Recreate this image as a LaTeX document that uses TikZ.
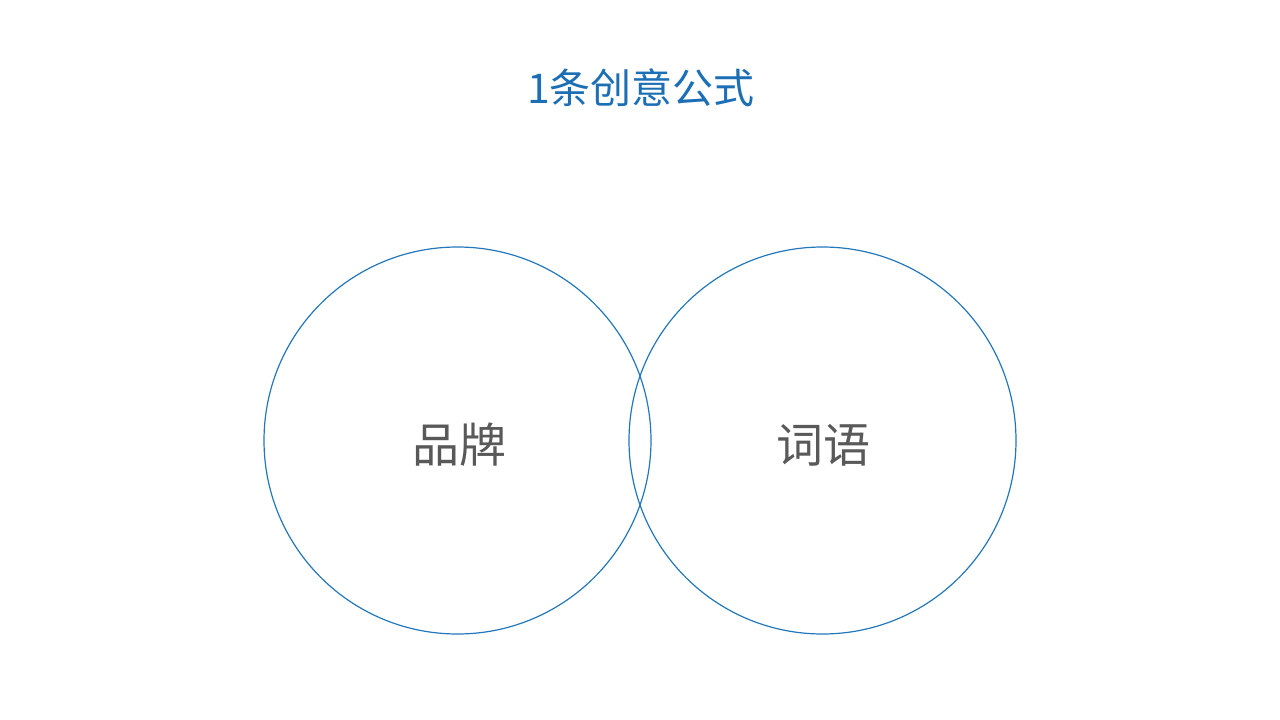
\documentclass[tikz,border=0pt]{standalone}
\usepackage{fontspec}
\newfontfamily\cjk{Noto Sans CJK SC}
\definecolor{titleblue}{HTML}{1C6FB5}
\definecolor{circblue}{HTML}{2277BB}
\definecolor{txtgrey}{HTML}{595959}
\begin{document}
\begin{tikzpicture}[x=1pt,y=-1pt,
  ring/.style={circle,draw=circblue,line width=1.2pt,minimum size=387pt,inner sep=0pt},
  label/.style={font=\cjk\fontsize{47}{52}\selectfont,text=txtgrey},
  title/.style={font=\cjk\fontsize{41}{48}\selectfont,text=titleblue}]
\useasboundingbox (0,0) rectangle (1280,720);
\node[ring] (left) at (457.5,440.5) {};
\node[ring] (right) at (822.5,440.5) {};
\node[label] (brand) at (459,445) {品牌};
\node[label] (words) at (823,445) {词语};
\node[title] (head) at (641,88) {1条创意公式};
\end{tikzpicture}
\end{document}
